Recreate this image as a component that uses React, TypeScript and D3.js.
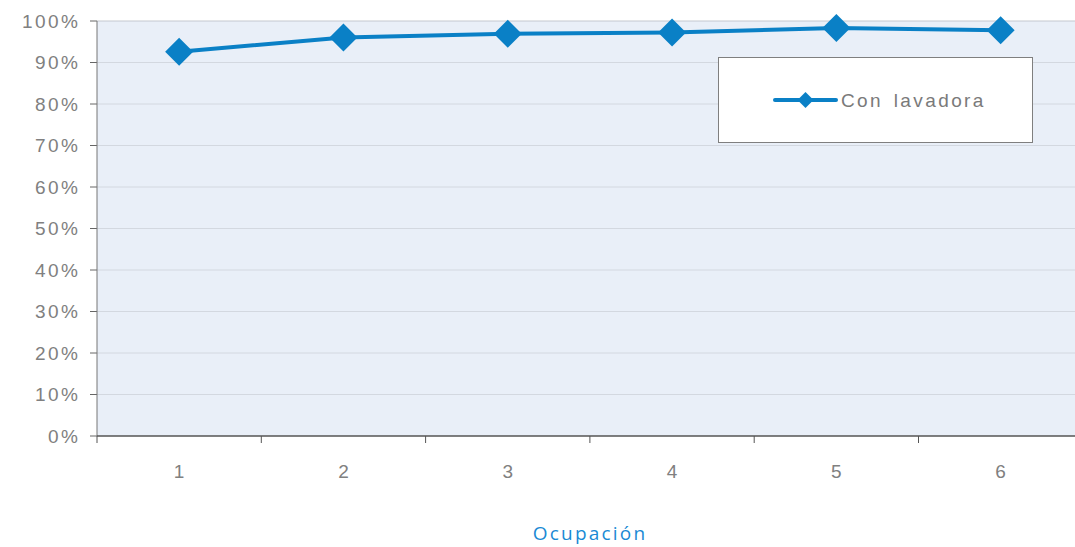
import React from "react";
import * as d3 from "d3";

const categories = ["1", "2", "3", "4", "5", "6"];
const values = [92.6, 96.0, 96.9, 97.2, 98.3, 97.8];
const yTicks = [0, 10, 20, 30, 40, 50, 60, 70, 80, 90, 100];
const seriesName = "Con lavadora";
const xTitle = "Ocupación";

const W = 1075, H = 547;
const left = 97, top = 21, bottom = 436;
const bandW = 164.3;
const right = left + bandW * categories.length;

export default function App() {
  const x = d3.scaleBand<string>().domain(categories).range([left, right]);
  const y = d3.scaleLinear().domain([0, 100]).range([bottom, top]);
  const line = d3.line<number>()
    .x((_, i) => x(categories[i])! + x.bandwidth() / 2)
    .y((d) => y(d));
  const color = "#0a80c6";
  const diamond = (cx: number, cy: number, r: number) =>
    `M${cx},${cy - r}L${cx + r},${cy}L${cx},${cy + r}L${cx - r},${cy}Z`;
  const font = "'Liberation Sans', Arial, sans-serif";
  const ls = 2.5;
  return (
    <svg width={W} height={H} style={{ position: "absolute", left: 0, top: 0 }}>
      <rect x={0} y={0} width={W} height={H} fill="#fff" />
      <rect x={left} y={top} width={right - left} height={bottom - top} fill="#e9eff8" />
      {yTicks.map((t) => (
        <g key={t}>
          {t > 0 && (
            <line x1={left} x2={right} y1={y(t)} y2={y(t)} stroke={t === 100 ? "#c4c8cf" : "#d3d8e0"} strokeWidth={1} />
          )}
          <line x1={left - 7} x2={left} y1={y(t)} y2={y(t)} stroke="#666" strokeWidth={1} />
          <text x={78 + ls} y={y(t)} dy="0.36em" textAnchor="end" fontSize={19} fill="#808080" fontFamily={font} letterSpacing={ls}>
            {t}%
          </text>
        </g>
      ))}
      <line x1={left} x2={left} y1={top} y2={bottom} stroke="#777" strokeWidth={1} />
      <line x1={left} x2={right} y1={bottom} y2={bottom} stroke="#555" strokeWidth={1.3} />
      {categories.map((c) => (
        <g key={c}>
          <line x1={x(c)!} x2={x(c)!} y1={bottom} y2={bottom + 7} stroke="#555" strokeWidth={1} />
          <text x={x(c)! + x.bandwidth() / 2 + ls / 2} y={471} dy="0.36em" textAnchor="middle" fontSize={19} fill="#808080" fontFamily={font} letterSpacing={ls}>
            {c}
          </text>
        </g>
      ))}
      <path d={line(values) ?? ""} fill="none" stroke={color} strokeWidth={4} strokeLinejoin="round" />
      {values.map((v, i) => (
        <path key={i} d={diamond(x(categories[i])! + x.bandwidth() / 2, y(v), 14)} fill={color} />
      ))}
      <rect x={718.5} y={57.5} width={314} height={85} fill="#fff" stroke="#7f7f7f" strokeWidth={1} />
      <line x1={775} x2={836} y1={100} y2={100} stroke={color} strokeWidth={4} strokeLinecap="round" />
      <path d={diamond(805.5, 100, 8)} fill={color} />
      <text x={841} y={100} dy="0.36em" fontSize={19} fill="#7a7a7a" fontFamily={font} letterSpacing={2.4} wordSpacing={3}>
        {seriesName}
      </text>
      <text x={590} y={533} dy="0.36em" textAnchor="middle" fontSize={19} fill="#1a8ad4" fontFamily="'Open Sans', sans-serif" letterSpacing={2.2}>
        {xTitle}
      </text>
    </svg>
  );
}
